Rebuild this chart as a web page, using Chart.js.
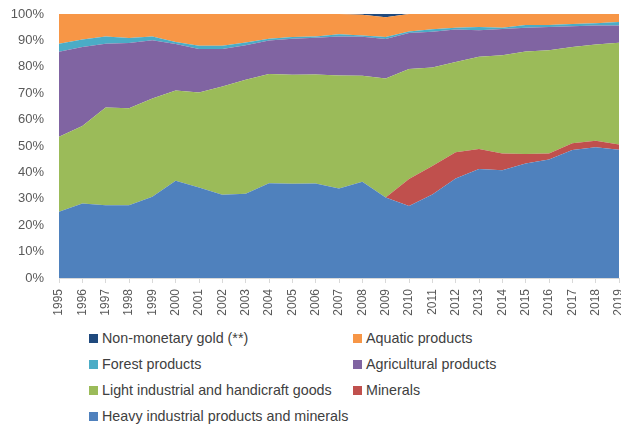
<!DOCTYPE html>
<html>
<head>
<meta charset="utf-8">
<script src="https://cdn.jsdelivr.net/npm/chart.js@4/dist/chart.umd.min.js"></script>
<style>
  body { margin: 0; background: #fff; }
  #wrap { position: relative; width: 621px; height: 428px; }
  #legend {
    position: absolute; left: 89px; top: 325px;
    display: grid; grid-template-columns: 264px auto; grid-auto-rows: 26px;
    font: 14.3px "Liberation Sans", Arial, sans-serif; color: #404040;
  }
  .item { display: flex; align-items: center; white-space: nowrap; }
  .box { width: 9px; height: 9px; margin-right: 4px; }
</style>
</head>
<body>
<div id="wrap">
  <canvas id="myChart" width="621" height="320"></canvas>
  <div id="legend"></div>
</div>
<script>
'use strict';

const years = ['1995','1996','1997','1998','1999','2000','2001','2002','2003','2004','2005','2006',
  '2007','2008','2009','2010','2011','2012','2013','2014','2015','2016','2017','2018','2019'];

// shares in %, stacked bottom to top
const heavy = [25.1,28.2,27.6,27.6,30.8,36.8,34.3,31.5,31.9,35.9,35.7,35.8,
  33.9,36.5,30.5,27.3,31.6,37.7,41.3,40.8,43.4,44.9,48.5,49.5,48.6];
const minerals = [0,0,0,0,0,0,0,0,0,0,0,0,
  0,0,0,10.2,10.8,9.9,7.6,6.4,3.6,2.3,2.5,2.5,2.0];
const light = [28.4,29.4,37.0,36.7,37.2,34.2,36.0,41.0,43.2,41.4,41.3,41.3,
  42.8,40.1,45.1,41.7,37.3,34.2,34.9,37.2,38.8,39.1,36.5,36.4,38.5];
const agricultural = [32.2,29.9,24.1,24.7,22.1,17.6,16.4,14.2,13.1,12.7,13.6,13.9,
  14.8,14.8,14.9,13.6,13.6,12.3,10.0,9.9,9.0,8.8,7.9,7.2,6.5];
const forest = [3.0,2.8,2.8,1.9,1.4,0.8,1.3,1.3,1.0,0.6,0.7,0.5,
  0.8,0.5,0.8,0.6,0.9,0.7,1.3,0.5,1.0,0.7,0.8,0.9,1.4];
const aquatic = [11.3,9.7,8.5,9.1,8.5,10.6,12.0,12.0,10.8,9.4,8.7,8.5,
  7.7,7.8,7.5,6.6,5.8,5.2,4.9,5.2,4.2,4.2,3.8,3.5,3.0];
const gold = [0,0,0,0,0,0,0,0,0,0,0,0,
  0,0.3,1.2,0,0,0,0,0,0,0,0,0,0];

const series = [
  { label: 'Heavy industrial products and minerals', data: heavy, color: '#4F81BD' },
  { label: 'Minerals', data: minerals, color: '#C0504D' },
  { label: 'Light industrial and handicraft goods', data: light, color: '#9BBB59' },
  { label: 'Agricultural products', data: agricultural, color: '#8064A2' },
  { label: 'Forest products', data: forest, color: '#4BACC6' },
  { label: 'Aquatic products', data: aquatic, color: '#F79646' },
  { label: 'Non-monetary gold (**)', data: gold, color: '#1F497D' }
];

Chart.defaults.font.family = '"Liberation Sans", Arial, sans-serif';

const chart = new Chart(document.getElementById('myChart'), {
  type: 'line',
  data: {
    labels: years,
    datasets: series.map((s, i) => ({
      label: s.label,
      data: s.data,
      backgroundColor: s.color,
      borderColor: s.color,
      borderWidth: 0,
      pointRadius: 0,
      tension: 0,
      fill: i === 0 ? 'origin' : '-1'
    }))
  },
  options: {
    responsive: false,
    animation: false,
    layout: { padding: { top: 14, right: 2, left: 0, bottom: 0 } },
    plugins: { legend: { display: false }, tooltip: { enabled: false } },
    scales: {
      x: {
        offset: false,
        grid: { display: true, drawOnChartArea: false, drawTicks: true, tickLength: 5, color: '#d9d9d9' },
        border: { display: true, color: '#d9d9d9' },
        ticks: { autoSkip: false, minRotation: 90, maxRotation: 90, padding: 6, color: '#595959', font: { size: 12 } },
        afterFit: function(s) { s.height = 42; s.paddingLeft = 0; s.paddingRight = 0; }
      },
      y: {
        stacked: true,
        min: 0,
        max: 100,
        grid: { display: false, drawTicks: false },
        border: { display: false },
        ticks: { stepSize: 10, padding: 15, color: '#595959', font: { size: 13 }, callback: v => v + '%' },
        afterFit: function(s) { s.width = 59; s.paddingTop = 0; s.paddingBottom = 0; }
      }
    }
  }
});

// legend, top series first, two columns
const legend = document.getElementById('legend');
series.slice().reverse().forEach(s => {
  const item = document.createElement('div');
  item.className = 'item';
  item.innerHTML = '<span class="box" style="background:' + s.color + '"></span>' + s.label;
  legend.appendChild(item);
});
</script>
</body>
</html>
